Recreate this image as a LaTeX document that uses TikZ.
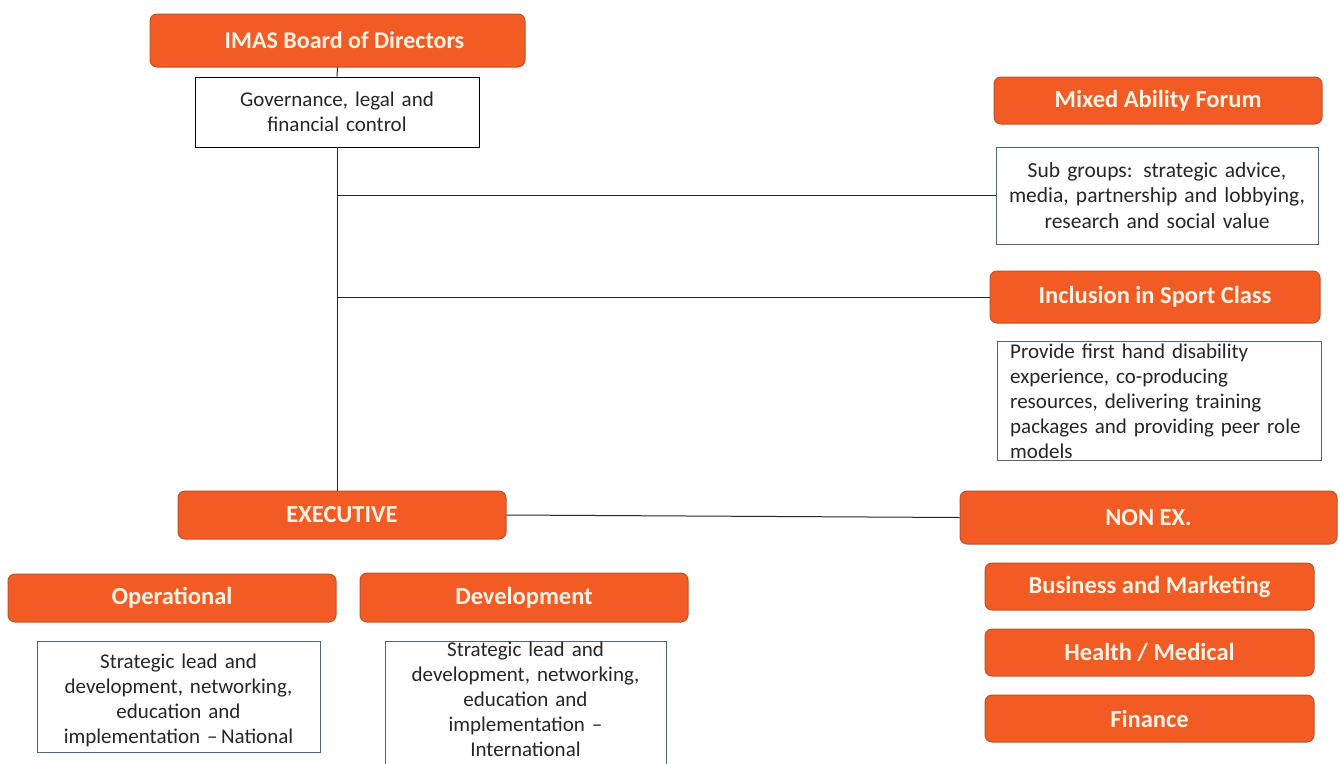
\documentclass[tikz,border=0pt]{standalone}
\usepackage{fontspec}
\setmainfont{Carlito}
\definecolor{orng}{HTML}{F25B24}
\definecolor{oborder}{HTML}{B9542F}
\definecolor{cream}{HTML}{FFF3E6}
\definecolor{bodytext}{HTML}{262626}
\definecolor{boxline}{HTML}{4F6478}
\tikzset{
  obox/.style={draw=oborder, line width=1pt, fill=orng, rounded corners=7pt, text=cream,
    font=\fontsize{24.5}{28}\selectfont\bfseries, inner sep=0pt},
  tbox/.style={draw=boxline, line width=0.9pt, fill=white, inner sep=0pt},
  btext/.style={text=bodytext, font=\fontsize{21}{25}\selectfont, align=center, inner sep=0pt},
  conn/.style={draw=black!85, line width=1pt}
}
\begin{document}
\begin{tikzpicture}[x=1pt,y=-1pt]
\useasboundingbox[fill=white] (0,0) rectangle (1340,763);

% left column
\node[obox, minimum width=375, minimum height=53, font=\fontsize{24}{28}\selectfont\bfseries] (board) at (337.5,40.5) {\hspace{14pt}IMAS Board of Directors};
\node[tbox, draw=black, minimum width=284, minimum height=70] (gov) at (337,112) {};
\node[btext, text width=280] (govtext) at (gov.center) {Governance, legal and\\financial control};

% right column
\node[obox, minimum width=328, minimum height=47] (maf) at (1158,100.5) {Mixed Ability Forum};
\node[tbox, minimum width=322, minimum height=97] (sub) at (1157,195.5) {};
\node[btext, text width=320, font=\fontsize{21.5}{25.5}\selectfont] (subtext) at (sub.center) {Sub groups: strategic advice,\\media, partnership and lobbying,\\research and social value};
\node[obox, minimum width=330, minimum height=52] (incl) at (1155,297) {Inclusion in Sport Class};
\node[tbox, minimum width=324, minimum height=119] (prov) at (1159,400.5) {};
\node[btext, align=left, text width=315, anchor=north west] (provtext) at (1010,344) {Provide first hand disability\\experience, co-producing\\resources, delivering training\\packages and providing peer role\\models};

% executive row
\node[obox, minimum width=328, minimum height=48] (exec) at (342,515) {EXECUTIVE};
\node[obox, minimum width=377, minimum height=53] (nonex) at (1148.5,517.5) {NON EX.};

% non executive list
\node[obox, minimum width=329, minimum height=47] (bus) at (1149.5,586.5) {Business and Marketing};
\node[obox, minimum width=329, minimum height=47] (health) at (1149.5,652.5) {Health / Medical};
\node[obox, minimum width=329, minimum height=47] (fin) at (1149.5,718.5) {Finance};

% executive branches
\node[obox, minimum width=328, minimum height=48] (op) at (172,598) {Operational};
\node[obox, minimum width=328, minimum height=49] (dev) at (524,597.5) {Development};
\node[tbox, minimum width=283, minimum height=111] (opbox) at (178.5,696.5) {};
\node[btext, text width=280] (optext) at ([yshift=-4pt]opbox.center) {Strategic lead and\\development, networking,\\education and\\implementation --\,National};
\node[tbox, minimum width=281, minimum height=150, anchor=north] (devbox) at (525.5,641) {};
\node[btext, text width=278, anchor=north] (devtext) at (525.5,642) {Strategic lead and\\development, networking,\\education and\\implementation --\\International};

% connectors
\draw[conn] (board.south) -- (gov.north);
\draw[conn] (gov.south) -- (gov.south |- exec.north);
\draw[conn] (gov.south |- sub.west) -- (sub.west);
\draw[conn] (gov.south |- incl.west) -- (incl.west);
\draw[conn] (exec.east) -- (nonex.west);
\end{tikzpicture}
\end{document}
